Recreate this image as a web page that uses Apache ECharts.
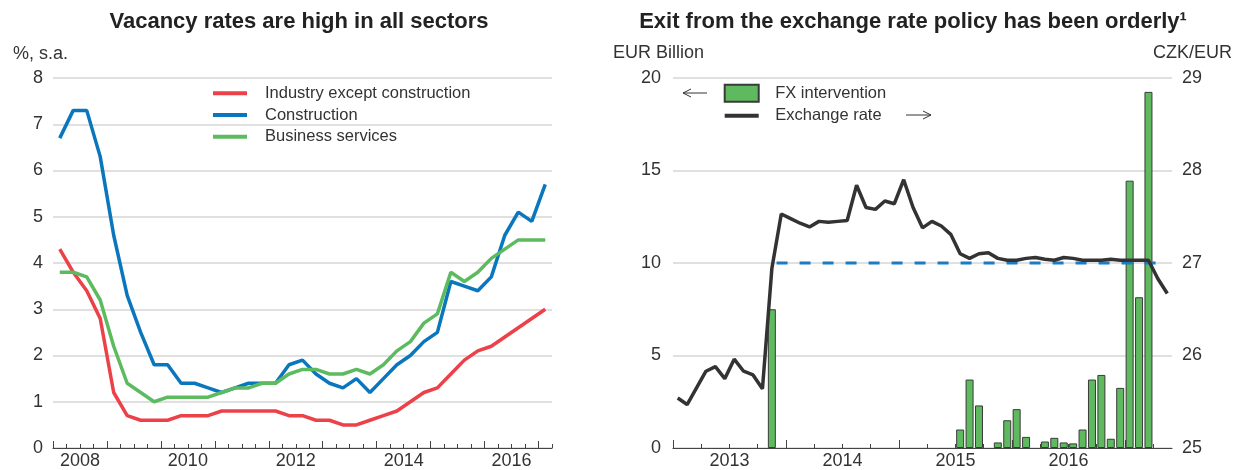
<!DOCTYPE html>
<html><head><meta charset="utf-8">
<script src="https://cdn.jsdelivr.net/npm/echarts@6/dist/echarts.min.js"></script>
<style>html,body{margin:0;padding:0;background:#fff}#c{width:1234px;height:470px}</style>
</head><body><div id="c"></div>
<script>
// ---------- Left panel: vacancy rates (quarterly, 2008Q1 - 2017Q1) ----------
const vacancyFirstYear = 2008;
const vacancyYearLabels = ['2008', '2010', '2012', '2014', '2016'];
const vacancyTicks = [0, 1, 2, 3, 4, 5, 6, 7, 8];
const industry = [4.3, 3.8, 3.4, 2.8, 1.2, 0.7, 0.6, 0.6, 0.6, 0.7, 0.7, 0.7, 0.8, 0.8, 0.8, 0.8, 0.8, 0.7, 0.7, 0.6, 0.6, 0.5, 0.5, 0.6, 0.7, 0.8, 1.0, 1.2, 1.3, 1.6, 1.9, 2.1, 2.2, 2.4, 2.6, 2.8, 3.0];
const construction = [6.7, 7.3, 7.3, 6.3, 4.6, 3.3, 2.5, 1.8, 1.8, 1.4, 1.4, 1.3, 1.2, 1.3, 1.4, 1.4, 1.4, 1.8, 1.9, 1.6, 1.4, 1.3, 1.5, 1.2, 1.5, 1.8, 2.0, 2.3, 2.5, 3.6, 3.5, 3.4, 3.7, 4.6, 5.1, 4.9, 5.7];
const business = [3.8, 3.8, 3.7, 3.2, 2.2, 1.4, 1.2, 1.0, 1.1, 1.1, 1.1, 1.1, 1.2, 1.3, 1.3, 1.4, 1.4, 1.6, 1.7, 1.7, 1.6, 1.6, 1.7, 1.6, 1.8, 2.1, 2.3, 2.7, 2.9, 3.8, 3.6, 3.8, 4.1, 4.3, 4.5, 4.5, 4.5];

// ---------- Right panel: FX intervention & exchange rate (monthly, 2013-01 - 2017-05) ----------
const rateFirstYear = 2013;
const rateYearLabels = ['2013', '2014', '2015', '2016'];
const fxTicks = [0, 5, 10, 15, 20];
const rateTicks = [25, 26, 27, 28, 29];
const exchangeRate = [25.54, 25.47, 25.65, 25.83, 25.88, 25.75, 25.96, 25.83, 25.79, 25.64, 26.94, 27.53,
  27.48, 27.43, 27.39, 27.45, 27.44, 27.45, 27.46, 27.84, 27.60, 27.58, 27.67, 27.64,
  27.90, 27.60, 27.38, 27.45, 27.40, 27.31, 27.10, 27.05, 27.10, 27.11, 27.05, 27.03,
  27.03, 27.05, 27.06, 27.04, 27.03, 27.06, 27.05, 27.03, 27.03, 27.03, 27.04, 27.03,
  27.03, 27.03, 27.03, 26.83, 26.67];
const fxMonths = ['2013-11', '2015-07', '2015-08', '2015-09', '2015-11', '2015-12', '2016-01', '2016-02', '2016-04', '2016-05', '2016-06', '2016-07', '2016-08', '2016-09', '2016-10', '2016-11', '2016-12', '2017-01', '2017-02', '2017-03'];
const fxValues = [7.5, 1.0, 3.7, 2.3, 0.3, 1.5, 2.1, 0.6, 0.35, 0.55, 0.3, 0.25, 1.0, 3.7, 3.95, 0.5, 3.25, 14.45, 8.15, 19.25];
const floorRate = 27;
const floorPeriod = ['2013-12-01', '2017-04-10'];

// ---------- helpers ----------
const FONT = "'Liberation Sans', Arial, Helvetica, sans-serif";
const TXT = '#333333';
const quarterX = i => vacancyFirstYear + (i + 0.5) / 4;
const monthPos = s => { const p = s.split('-').map(Number); return (p[0] - rateFirstYear) * 12 + (p[1] - 1) + (p[2] ? (p[2] - 1) / 30 : 0.5); };

const nQ = industry.length;
const vacMax = vacancyFirstYear + nQ / 4;
const yearTicksL = [], qTicksL = [];
for (let q = 0; q <= nQ; q++) { const v = vacancyFirstYear + q / 4; (q % 4 === 0 ? yearTicksL : qTicksL).push(v); }
const labelPosL = vacancyYearLabels.map(y => Number(y) + 0.5);

const nM = exchangeRate.length;
const yearTicksR = [], qTicksR = [];
for (let m = 0; m <= nM; m += 3) { (m % 12 === 0 ? yearTicksR : qTicksR).push(m); }
const labelPosR = rateYearLabels.map(y => (Number(y) - rateFirstYear) * 12 + 6);

const pairs = (arr, fx) => arr.map((v, i) => [fx(i), v]);

const axisLineStyle = { color: '#444', width: 1.2 };
const tickStyle = { color: '#444', width: 1 };
const gridLine = { show: true, lineStyle: { color: '#d6d6d6', width: 1.5 } };
const labelStyle = { fontFamily: FONT, fontSize: 18, color: TXT };

function arrow(x1, x2, y) {
  const dir = x2 > x1 ? 1 : -1;
  return [
    { type: 'line', shape: { x1: x1, y1: y, x2: x2, y2: y }, style: { stroke: '#333', lineWidth: 1 } },
    { type: 'polyline', shape: { points: [[x2 - dir * 8, y - 4], [x2, y], [x2 - dir * 8, y + 4]] }, style: { stroke: '#333', lineWidth: 1, fill: null } }
  ];
}

const option = {
  animation: false,
  backgroundColor: '#fff',
  grid: [
    { left: 53, top: 78, width: 499, height: 371 },
    { left: 673, top: 78, width: 499, height: 372 }
  ],
  xAxis: [
    { gridIndex: 0, type: 'value', position: 'bottom', min: vacancyFirstYear, max: vacMax,
      axisLine: { show: true, lineStyle: axisLineStyle },
      axisTick: { show: true, inside: true, length: 7, lineStyle: tickStyle, customValues: yearTicksL },
      axisLabel: Object.assign({ margin: 4, customValues: labelPosL, formatter: v => String(Math.floor(v)) }, labelStyle),
      splitLine: { show: false } },
    { gridIndex: 0, type: 'value', position: 'bottom', min: vacancyFirstYear, max: vacMax,
      axisLine: { show: false },
      axisTick: { show: true, inside: true, length: 4, lineStyle: tickStyle, customValues: qTicksL },
      axisLabel: { show: false }, splitLine: { show: false } },
    { gridIndex: 1, type: 'value', position: 'bottom', min: 0, max: nM,
      axisLine: { show: true, lineStyle: axisLineStyle },
      axisTick: { show: true, inside: true, length: 8, lineStyle: tickStyle, customValues: yearTicksR },
      axisLabel: Object.assign({ margin: 4, customValues: labelPosR, formatter: v => String(rateFirstYear + Math.floor(v / 12)) }, labelStyle),
      splitLine: { show: false } },
    { gridIndex: 1, type: 'value', position: 'bottom', min: 0, max: nM,
      axisLine: { show: false },
      axisTick: { show: true, inside: true, length: 4, lineStyle: tickStyle, customValues: qTicksR },
      axisLabel: { show: false }, splitLine: { show: false } }
  ],
  yAxis: [
    { gridIndex: 0, type: 'value', min: vacancyTicks[0], max: vacancyTicks[vacancyTicks.length - 1], interval: 1,
      axisLine: { show: false }, axisTick: { show: false },
      axisLabel: Object.assign({ margin: 10 }, labelStyle), splitLine: gridLine },
    { gridIndex: 1, type: 'value', position: 'left', min: fxTicks[0], max: fxTicks[fxTicks.length - 1], interval: 5,
      axisLine: { show: false }, axisTick: { show: false },
      axisLabel: Object.assign({ margin: 12 }, labelStyle), splitLine: gridLine },
    { gridIndex: 1, type: 'value', position: 'right', min: rateTicks[0], max: rateTicks[rateTicks.length - 1], interval: 1,
      axisLine: { show: false }, axisTick: { show: false },
      axisLabel: Object.assign({ margin: 10 }, labelStyle), splitLine: { show: false } }
  ],
  legend: [
    { orient: 'vertical', left: 213, top: 84.5, padding: 0, itemWidth: 34, itemHeight: 4, itemGap: 4, icon: 'rect',
      textStyle: { fontFamily: FONT, fontSize: 16.5, color: TXT, lineHeight: 17.7, padding: [0, 0, 0, 13] },
      data: ['Industry except construction', 'Construction', 'Business services'] },
    { orient: 'vertical', left: 723.7, top: 83.7, padding: 0, itemWidth: 34, itemHeight: 17, itemGap: 4.3,
      textStyle: { fontFamily: FONT, fontSize: 16.5, color: TXT, lineHeight: 17.7, padding: [0, 0, 0, 11.5] },
      data: [{ name: 'FX intervention', icon: 'rect' }, { name: 'Exchange rate', icon: 'path://M0,0L34,0L34,4L0,4Z' }] }
  ],
  series: [
    { name: 'Industry except construction', type: 'line', xAxisIndex: 0, yAxisIndex: 0, symbol: 'none',
      lineStyle: { color: '#ec4148', width: 3.5 }, itemStyle: { color: '#ec4148' }, data: pairs(industry, quarterX) },
    { name: 'Construction', type: 'line', xAxisIndex: 0, yAxisIndex: 0, symbol: 'none',
      lineStyle: { color: '#0a76bd', width: 3.5 }, itemStyle: { color: '#0a76bd' }, data: pairs(construction, quarterX) },
    { name: 'Business services', type: 'line', xAxisIndex: 0, yAxisIndex: 0, symbol: 'none',
      lineStyle: { color: '#5dbb5f', width: 3.5 }, itemStyle: { color: '#5dbb5f' }, data: pairs(business, quarterX) },
    { name: 'FX intervention', type: 'bar', xAxisIndex: 2, yAxisIndex: 1, barWidth: 8, z: 2,
      itemStyle: { color: '#5fba5f', borderColor: '#3a3a3a', borderWidth: 1 },
      data: fxMonths.map((m, i) => [monthPos(m), fxValues[i]]) },
    { name: 'Floor', type: 'line', xAxisIndex: 2, yAxisIndex: 2, symbol: 'none', z: 3,
      lineStyle: { color: '#1b7cc4', width: 3, type: [11, 12] },
      data: floorPeriod.map(d => [monthPos(d), floorRate]) },
    { name: 'Exchange rate', type: 'line', xAxisIndex: 2, yAxisIndex: 2, symbol: 'none', z: 4,
      lineStyle: { color: '#333333', width: 3.5 }, itemStyle: { color: '#333333' },
      data: pairs(exchangeRate, i => i + 0.5) }
  ],
  graphic: [
    { type: 'text', x: 299, y: 22, style: { text: 'Vacancy rates are high in all sectors', font: 'bold 22px ' + FONT, fill: '#222', align: 'center', verticalAlign: 'middle' } },
    { type: 'text', x: 913, y: 22, style: { text: 'Exit from the exchange rate policy has been orderly\u00B9', font: 'bold 22px ' + FONT, fill: '#222', align: 'center', verticalAlign: 'middle' } },
    { type: 'text', x: 13, y: 54, style: { text: '%, s.a.', font: '18px ' + FONT, fill: TXT, align: 'left', verticalAlign: 'middle' } },
    { type: 'text', x: 613, y: 53, style: { text: 'EUR Billion', font: '18px ' + FONT, fill: TXT, align: 'left', verticalAlign: 'middle' } },
    { type: 'text', x: 1232, y: 53, style: { text: 'CZK/EUR', font: '18px ' + FONT, fill: TXT, align: 'right', verticalAlign: 'middle' } }
  ].concat(arrow(707, 683, 93), arrow(906, 931, 115))
};

const chart = echarts.init(document.getElementById('c'), null, { renderer: 'canvas' });
chart.setOption(option);
</script>
</body></html>
